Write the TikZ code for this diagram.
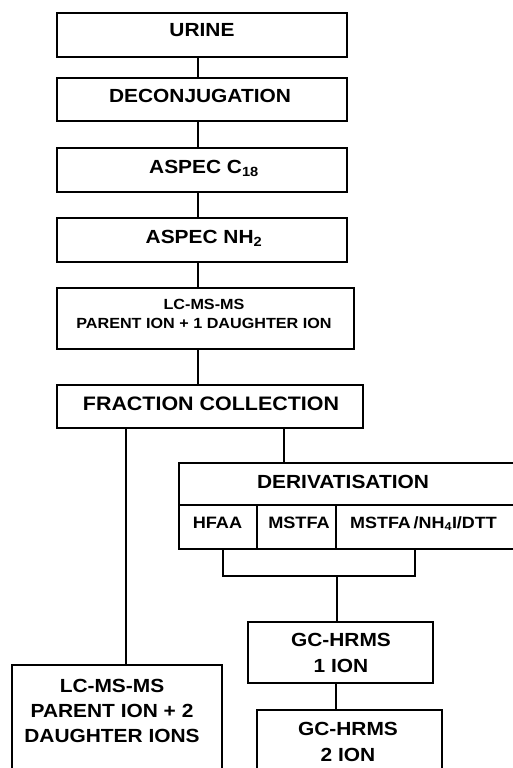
\documentclass[tikz,border=0pt]{standalone}
\usepackage{fontspec}
\setmainfont{Liberation Sans}[FakeStretch=1.1]
\begin{document}
\begin{tikzpicture}[x=1pt,y=-1pt,
  box/.style={draw, line width=1.1pt, inner sep=0pt},
  lbl/.style={inner sep=0pt, align=center},
  conn/.style={line width=1.1pt}]
\useasboundingbox (0,0) rectangle (513,768);
\fill[white] (0,0) rectangle (513,768);
% boxes
\node[box, minimum width=290pt, minimum height=44pt] (urine) at (202,35) {};
\node[box, minimum width=290pt, minimum height=43pt] (decon) at (202,99.5) {};
\node[box, minimum width=290pt, minimum height=44pt] (c18) at (202,170) {};
\node[box, minimum width=290pt, minimum height=44pt] (nh2) at (202,240) {};
\node[box, minimum width=297pt, minimum height=61pt] (lc1) at (205.5,318.5) {};
\node[box, minimum width=306pt, minimum height=43pt] (frac) at (210,406.5) {};
\node[box, minimum width=336pt, minimum height=86pt] (deriv) at (347,506) {};
\node[box, minimum width=185pt, minimum height=61pt] (gc1) at (340.5,652.5) {};
\node[box, minimum width=185pt, minimum height=80pt] (gc2) at (349.5,750) {};
\node[box, minimum width=210pt, minimum height=130pt] (lc2) at (117,730) {};
% texts
\node[lbl, anchor=base, font=\bfseries\fontsize{19}{23}\selectfont] (turine) at (202,37) {URINE};
\node[lbl, anchor=base, font=\bfseries\fontsize{19}{23}\selectfont] (tdecon) at (200,102) {DECONJUGATION};
\node[lbl, anchor=base, font=\bfseries\fontsize{19}{23}\selectfont] (tc18) at (204,173) {ASPEC C\textsubscript{18}};
\node[lbl, anchor=base, font=\bfseries\fontsize{19}{23}\selectfont] (tnh2) at (204,243) {ASPEC NH\textsubscript{2}};
\node[lbl, anchor=north, font=\bfseries\fontsize{14.7}{19}\selectfont] (tlc1) at (204,299) {LC-MS-MS\\PARENT ION + 1 DAUGHTER ION};
\node[lbl, anchor=base, font=\bfseries\fontsize{19.5}{23}\selectfont] (tfrac) at (211,410) {FRACTION COLLECTION};
\node[lbl, anchor=base, font=\bfseries\fontsize{19}{23}\selectfont] (tderiv) at (343,488) {DERIVATISATION};
\node[lbl, anchor=base, font=\bfseries\fontsize{16.5}{20}\selectfont] (thfaa) at (217.5,528) {HFAA};
\node[lbl, anchor=base, font=\bfseries\fontsize{16.5}{20}\selectfont] (tmstfa) at (299,528) {MSTFA};
\node[lbl, anchor=base, font=\bfseries\fontsize{16.3}{20}\selectfont] (tmix) at (423.5,528) {MSTFA\,/NH\textsubscript{4}I/DTT};
\node[lbl, anchor=north, font=\bfseries\fontsize{19}{26}\selectfont] (tgc1) at (341,633) {GC-HRMS\\1 ION};
\node[lbl, anchor=north, font=\bfseries\fontsize{19}{26}\selectfont] (tgc2) at (348,722) {GC-HRMS\\2 ION};
\node[lbl, anchor=north, font=\bfseries\fontsize{19}{25}\selectfont] (tlc2) at (112,679) {LC-MS-MS\\PARENT ION + 2\\DAUGHTER IONS};
% derivatisation subdivisions
\coordinate (hline) at (0,505);
\coordinate (v1) at (257,0);
\coordinate (v2) at (336,0);
\draw[conn] (deriv.west |- hline) -- (deriv.east |- hline);
\draw[conn] (v1 |- hline) -- (v1 |- deriv.south);
\draw[conn] (v2 |- hline) -- (v2 |- deriv.south);
% connectors
\coordinate (xm) at (198,0);
\coordinate (xf) at (284,0);
\coordinate (xl) at (126,0);
\coordinate (bl) at (223,0);
\coordinate (br) at (415,0);
\coordinate (bm) at (337,576);
\draw[conn] (urine.south -| xm) -- (decon.north -| xm);
\draw[conn] (decon.south -| xm) -- (c18.north -| xm);
\draw[conn] (c18.south -| xm) -- (nh2.north -| xm);
\draw[conn] (nh2.south -| xm) -- (lc1.north -| xm);
\draw[conn] (lc1.south -| xm) -- (frac.north -| xm);
\draw[conn] (frac.south -| xf) -- (deriv.north -| xf);
\draw[conn] (frac.south -| xl) -- (lc2.north -| xl);
\draw[conn] (deriv.south -| bl) -- (bl |- bm) -- (br |- bm) -- (deriv.south -| br);
\draw[conn] (bm) -- (gc1.north -| bm);
\draw[conn] (gc1.south -| v2) -- (gc2.north -| v2);
\end{tikzpicture}
\end{document}
